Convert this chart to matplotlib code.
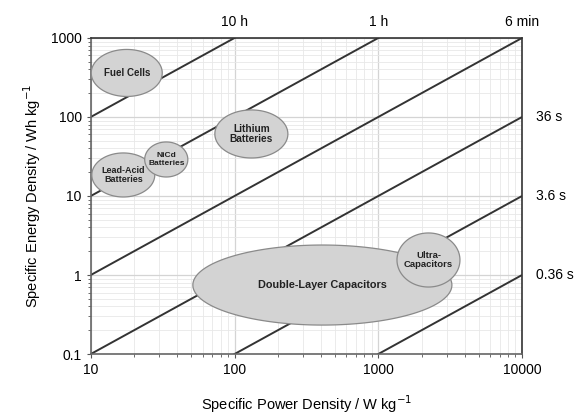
import matplotlib
matplotlib.use("Agg")
import matplotlib.pyplot as plt
import numpy as np

# constant discharge-time lines (hours) and their labels
TIME_H = [10, 1, 0.1, 0.01, 0.001, 0.0001]
TIME_LABEL = ["10 h", "1 h", "6 min", "36 s", "3.6 s", "0.36 s"]

# technology regions: centre (log10 W/kg, log10 Wh/kg) and extent in decades
REGION_NAME = ["Fuel Cells", "Lead-Acid\nBatteries", "NiCd\nBatteries",
               "Lithium\nBatteries", "Double-Layer Capacitors", "Ultra-\nCapacitors"]
REGION_CX = [1.25, 1.226, 1.525, 2.117, 2.611, 3.349]
REGION_CY = [2.557, 1.266, 1.462, 1.785, -0.127, 0.19]
REGION_W = [0.494, 0.438, 0.30, 0.508, 1.802, 0.438]
REGION_H = [0.595, 0.557, 0.443, 0.608, 1.013, 0.684]
REGION_FS = [7.0, 6.5, 6.0, 7.3, 7.8, 6.8]

XMIN, XMAX = 10, 10000
YMIN, YMAX = 0.1, 1000

plt.rcParams["font.family"] = "Liberation Sans"

fig = plt.figure(figsize=(5.82, 4.17), dpi=100)
ax = fig.add_axes([0.156, 0.151, 0.741, 0.758])
ax.set_xscale("log")
ax.set_yscale("log")
ax.set_xlim(XMIN, XMAX)
ax.set_ylim(YMIN, YMAX)

ax.grid(True, which="major", color="#d4d4d4", linewidth=0.9)
ax.grid(True, which="minor", color="#e8e8e8", linewidth=0.6)
ax.set_axisbelow(True)

# diagonal lines E = P * t
P = np.array([XMIN, XMAX], dtype=float)
for t, lab in zip(TIME_H, TIME_LABEL):
    ax.plot(P, P * t, color="#333333", linewidth=1.4, zorder=2, solid_capstyle="butt")
    if t >= 0.1:
        ax.text(YMAX / t, YMAX * 1.3, lab, ha="center", va="bottom", fontsize=10)
    else:
        ax.text(XMAX * 1.25, XMAX * t, lab, ha="left", va="center", fontsize=10,
                clip_on=False)

# ellipses drawn in log space
tt = np.linspace(0, 2 * np.pi, 200)
for name, cx, cy, w, h, fs in zip(REGION_NAME, REGION_CX, REGION_CY, REGION_W, REGION_H, REGION_FS):
    xs = 10 ** (cx + w / 2 * np.cos(tt))
    ys = 10 ** (cy + h / 2 * np.sin(tt))
    ax.fill(xs, ys, facecolor="#d3d3d3", edgecolor="#8a8a8a", linewidth=0.9, zorder=3)
    ax.text(10 ** cx, 10 ** cy, name, ha="center", va="center", fontsize=fs,
            fontweight="bold", color="#222222", zorder=4, linespacing=1.1)

ax.set_xticks([10, 100, 1000, 10000])
ax.set_xticklabels(["10", "100", "1000", "10000"])
ax.set_yticks([0.1, 1, 10, 100, 1000])
ax.set_yticklabels(["0.1", "1", "10", "100", "1000"])
ax.tick_params(which="both", labelsize=10, color="#555555", direction="out")
ax.tick_params(which="major", length=3)
ax.tick_params(which="minor", length=2)

for side in ["top", "right"]:
    ax.spines[side].set_color("#333333")
    ax.spines[side].set_linewidth(1.2)
for side in ["left", "bottom"]:
    ax.spines[side].set_color("#666666")
    ax.spines[side].set_linewidth(1.2)

ax.set_xlabel("Specific Power Density / W kg$^{-1}$", fontsize=10.5, labelpad=12)
ax.set_ylabel("Specific Energy Density / Wh kg$^{-1}$", fontsize=10.5, labelpad=6)

fig.savefig("out.png", dpi=100)
